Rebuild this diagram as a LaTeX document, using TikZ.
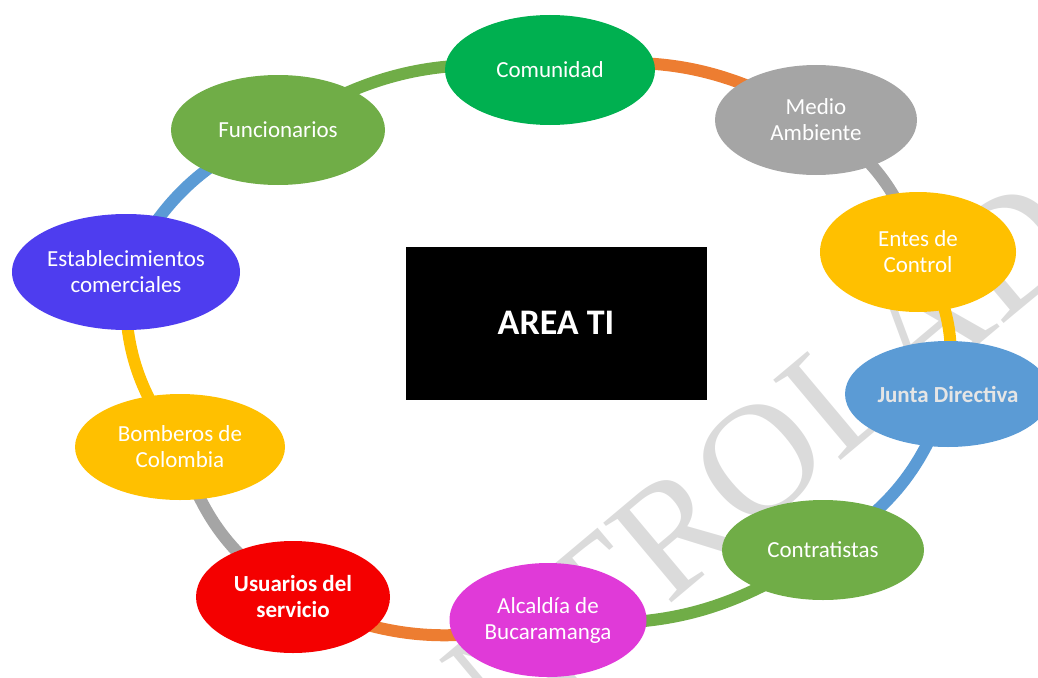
\documentclass[tikz,border=0pt]{standalone}
\usepackage{fontspec}
\setmainfont{Carlito}
\newfontfamily\marcafont{Liberation Serif}
\usetikzlibrary{shapes.geometric,backgrounds}
\definecolor{verdeA}{HTML}{00B050}
\definecolor{verdeB}{HTML}{70AD47}
\definecolor{grisA}{HTML}{A5A5A5}
\definecolor{oroA}{HTML}{FFC000}
\definecolor{azulA}{HTML}{5B9BD5}
\definecolor{naranjaA}{HTML}{ED7D31}
\definecolor{magentaA}{HTML}{E03AD8}
\definecolor{rojoA}{HTML}{F40000}
\definecolor{violetaA}{HTML}{4E3DEF}

\begin{document}
\begin{tikzpicture}[x=1pt,y=1pt,
  grupo/.style={ellipse,inner sep=0pt,text=white,align=center,
    font=\fontsize{23}{26}\selectfont},
  lazo/.style={line width=12pt},
  every to/.style={bend left=20}]
\useasboundingbox (0,0) rectangle (1038,-677);

\node[fill=black,minimum width=301,minimum height=153,text=white,
  font=\bfseries\fontsize{36}{40}\selectfont] (area) at (556,-323) {AREA TI};

\node[grupo,fill=verdeA,minimum width=210,minimum height=110] (comu) at (550,-70) {Comunidad};
\node[grupo,fill=grisA,minimum width=202,minimum height=110] (medio) at (816,-120) {Medio\\Ambiente};
\node[grupo,fill=oroA,minimum width=196,minimum height=120] (entes) at (918,-252) {Entes de\\Control};
\node[grupo,fill=azulA,minimum width=206,minimum height=106,text=white!90!black,
  font=\bfseries\fontsize{23}{26}\selectfont] (junta) at (948,-394) {Junta Directiva};
\node[grupo,fill=verdeB,minimum width=202,minimum height=100] (contra) at (823,-550) {Contratistas};
\node[grupo,fill=magentaA,minimum width=197,minimum height=114] (alcal) at (548,-620) {Alcaldía de\\Bucaramanga};
\node[grupo,fill=rojoA,minimum width=194,minimum height=112,
  font=\bfseries\fontsize{23}{26}\selectfont] (usua) at (293,-597) {Usuarios del\\servicio};
\node[grupo,fill=oroA,minimum width=210,minimum height=106] (bomb) at (180,-447) {Bomberos de\\Colombia};
\node[grupo,fill=violetaA,minimum width=228,minimum height=116] (estab) at (126,-272) {Establecimientos\\comerciales};
\node[grupo,fill=verdeB,minimum width=214,minimum height=110] (func) at (278,-130) {Funcionarios};

\begin{scope}[on background layer]
\clip (0,0) rectangle (1038,-677);
\node[rotate=40,text=gray!28,font=\marcafont\fontsize{160}{160}\selectfont] (marca) at (722,-492) {CONTROLADA};
\draw[lazo,verdeB] (func.center) to (comu.center);
\draw[lazo,naranjaA] (comu.center) to (medio.center);
\draw[lazo,grisA] (medio.center) to (entes.center);
\draw[lazo,oroA] (entes.center) to (junta.center);
\draw[lazo,azulA] (junta.center) to (contra.center);
\draw[lazo,verdeB] (contra.center) to (alcal.center);
\draw[lazo,naranjaA] (alcal.center) to (usua.center);
\draw[lazo,grisA] (usua.center) to (bomb.center);
\draw[lazo,oroA] (bomb.center) to (estab.center);
\draw[lazo,azulA] (estab.center) to (func.center);
\end{scope}

\end{tikzpicture}
\end{document}
